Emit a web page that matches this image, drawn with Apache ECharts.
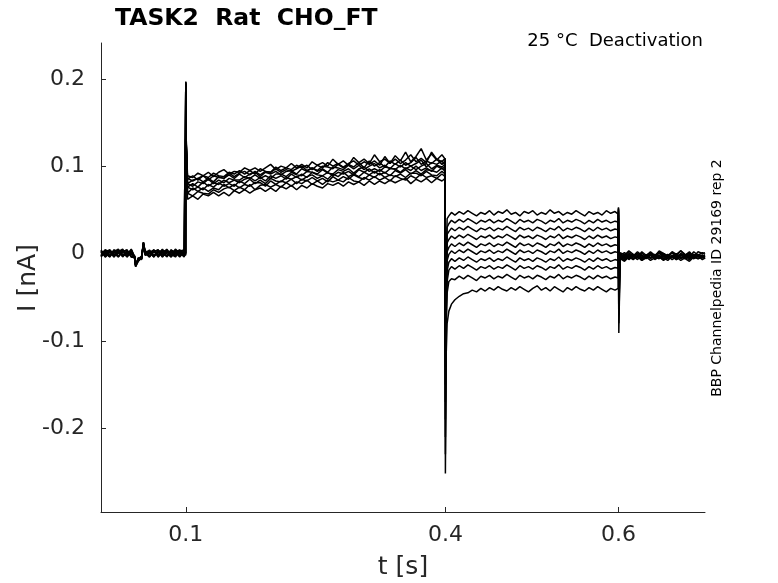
<!DOCTYPE html>
<html>
<head>
<meta charset="utf-8">
<script src="https://cdn.jsdelivr.net/npm/echarts@6/dist/echarts.min.js"></script>
<style>html,body{margin:0;padding:0;background:#fff;}#c{width:778px;height:583px;}</style>
</head>
<body>
<div id="c"></div>
<script>
// time samples [s]
const t = [
  0.002,0.007,0.012,0.017,0.022,0.027,0.032,0.037, 0.041,0.042,0.045,0.049,0.051,0.053, 0.058,0.063,0.068,0.073,0.078,0.083,0.088,0.093,0.098, 0.0997,
  0.1,0.1006,
  0.102,0.108,0.114,0.120,0.126,0.132,0.138,0.144,0.150,0.156,
  0.162,0.168,0.174,0.180,0.186,0.192,0.198,0.204,0.210,0.216,
  0.222,0.228,0.234,0.240,0.246,0.252,0.258,0.264,0.270,0.276,
  0.282,0.288,0.294,0.300,0.306,0.312,0.318,0.324,0.330,0.336,
  0.342,0.348,0.354,0.360,0.366,0.372,0.378,0.384,0.390,0.396,
  0.3997,
  0.4,0.4008,0.402,
  0.404,0.407,0.411,0.416,0.421,0.426,0.431,0.436,0.441,0.446,
  0.451,0.456,0.461,0.466,0.471,0.476,0.481,0.486,0.491,0.496,
  0.501,0.506,0.511,0.516,0.521,0.526,0.531,0.536,0.541,0.546,
  0.551,0.556,0.561,0.566,0.571,0.576,0.581,0.586,0.591,0.596,
  0.5997,
  0.6,0.6004,
  0.602,0.607,0.612,0.617,0.622,0.627,0.632,0.637,0.642,0.647,
  0.652,0.657,0.662,0.667,0.672,0.677,0.682,0.687,0.692,0.697,
  0.700
];

// current traces [nA]
const trace1 = [
  .003,-.003,.004,.000,-.004,.004,-.001,.005, -.004,-.012,-.007,-.003,.011,.002, .003,-.004,.004,-.001,.004,-.003,.005,.000,-.003, .001,
  .194,.125,
  .089,.087,.092,.089,.093,.088,.093,.096,.091,.094,
  .093,.098,.095,.098,.094,.098,.102,.096,.100,.098,
  .103,.098,.102,.098,.105,.101,.104,.100,.108,.102,
  .106,.101,.110,.104,.108,.103,.113,.105,.108,.103,
  .112,.106,.116,.105,.111,.120,.107,.114,.107,.113,
  .108,
  -.070,-.010,.040,
  .043,.047,.044,.048,.045,.049,.046,.043,.047,.045,
  .049,.044,.048,.046,.050,.045,.047,.043,.048,.046,
  .049,.044,.047,.045,.050,.046,.048,.044,.047,.045,
  .049,.046,.043,.048,.045,.047,.044,.049,.046,.048,
  .045,
  .030,-.091,
  -.001,-.004,.001,-.003,.002,-.002,-.005,.000,-.003,.002,
  -.001,-.004,.001,-.002,.003,-.001,-.004,.002,-.002,.001,
  -.001
];
const trace2 = [
  -.003,.004,-.004,.002,.005,-.002,.003,-.004, -.005,-.014,-.008,-.005,.013,.000, -.004,.004,-.002,.005,-.004,.002,-.003,.004,-.001, .000,
  .196,.120,
  .085,.089,.084,.089,.087,.092,.089,.088,.093,.091,
  .095,.091,.095,.091,.097,.094,.093,.099,.095,.098,
  .096,.101,.098,.101,.096,.101,.098,.104,.100,.103,
  .099,.103,.106,.101,.105,.102,.106,.101,.111,.103,
  .108,.103,.107,.113,.105,.109,.104,.116,.108,.105,
  .109,
  -.090,-.020,.030,
  .034,.038,.035,.039,.036,.040,.037,.034,.038,.036,
  .039,.035,.038,.036,.040,.037,.034,.039,.036,.038,
  .035,.039,.037,.034,.038,.036,.040,.035,.038,.036,
  .039,.037,.034,.038,.035,.039,.036,.038,.035,.037,
  .036,
  .035,-.080,
  -.005,-.002,-.007,-.003,.000,-.006,-.002,-.005,-.001,-.004,
  -.007,-.002,-.004,.000,-.005,-.003,-.006,-.001,-.004,-.002,
  -.004
];
const trace3 = [
  .002,-.004,.003,-.003,.002,.005,-.004,.002, -.006,-.013,-.006,-.007,.012,-.001, .004,-.002,.002,-.004,.005,-.001,-.004,.003,.004, -.002,
  .192,.118,
  .086,.083,.086,.089,.084,.089,.087,.086,.092,.088,
  .092,.094,.090,.094,.090,.094,.093,.097,.093,.096,
  .094,.097,.100,.095,.098,.095,.100,.099,.097,.102,
  .098,.102,.099,.104,.098,.106,.100,.104,.099,.106,
  .102,.107,.101,.104,.110,.102,.106,.103,.108,.102,
  .106,
  -.110,-.030,.022,
  .025,.029,.026,.030,.027,.031,.028,.025,.029,.027,
  .030,.026,.029,.027,.031,.028,.025,.030,.027,.029,
  .026,.030,.028,.025,.029,.027,.031,.026,.029,.027,
  .030,.028,.025,.029,.026,.030,.027,.029,.026,.028,
  .027,
  .040,-.070,
  .001,-.002,.003,-.001,-.004,.002,-.002,.001,-.003,.003,
  .000,-.003,.002,-.001,.003,-.002,.001,-.004,.002,.000,
  .001
];
const trace4 = [
  -.004,.002,-.003,.004,-.004,.002,.004,-.003, -.005,-.012,-.009,-.004,.010,-.002, .001,.004,-.004,.002,-.003,.004,.001,-.004,.002, .000,
  .195,.122,
  .080,.084,.086,.082,.086,.082,.088,.086,.090,.086,
  .091,.087,.091,.093,.088,.093,.091,.094,.090,.094,
  .095,.091,.097,.094,.098,.094,.097,.093,.099,.098,
  .096,.101,.097,.101,.096,.100,.103,.098,.101,.097,
  .103,.099,.104,.100,.103,.107,.099,.104,.102,.106,
  .101,
  -.130,-.040,.012,
  .016,.020,.017,.021,.018,.022,.019,.016,.020,.018,
  .021,.017,.020,.018,.022,.019,.016,.021,.018,.020,
  .017,.021,.019,.016,.020,.018,.022,.017,.020,.018,
  .021,.019,.016,.020,.017,.021,.018,.020,.017,.019,
  .018,
  .044,-.060,
  -.004,-.007,-.002,-.006,-.003,-.008,-.004,-.001,-.006,-.003,
  -.005,-.008,-.003,-.006,-.002,-.005,-.007,-.003,-.006,-.004,
  -.005
];
const trace5 = [
  .003,.000,-.004,.004,.002,-.003,.002,-.001, -.003,-.015,-.008,-.004,.012,.002, -.003,.002,.004,-.002,.003,-.004,.004,.000,-.003, .001,
  .193,.119,
  .080,.077,.082,.080,.085,.080,.084,.081,.086,.084,
  .084,.088,.086,.090,.086,.089,.086,.091,.091,.088,
  .093,.090,.089,.094,.093,.091,.096,.092,.091,.096,
  .094,.097,.092,.097,.099,.094,.097,.094,.099,.098,
  .096,.101,.097,.100,.096,.100,.103,.097,.101,.099,
  .102,
  -.150,-.050,.002,
  .007,.011,.008,.012,.009,.013,.010,.007,.011,.009,
  .012,.008,.011,.009,.013,.010,.007,.012,.009,.011,
  .008,.012,.010,.007,.011,.009,.013,.008,.011,.009,
  .012,.010,.007,.011,.008,.012,.009,.011,.008,.010,
  .009,
  .047,-.050,
  -.002,-.005,-.001,-.004,.000,-.003,-.006,-.002,-.004,.001,
  -.003,-.006,-.002,-.004,.000,-.003,-.005,-.001,-.003,-.002,
  -.003
];
const trace6 = [
  .000,.004,.002,-.004,.004,-.001,-.003,.004, -.005,-.014,-.005,-.006,.011,.000, .002,-.003,.001,.004,-.003,.002,.003,-.003,.004, -.001,
  .197,.124,
  .076,.080,.076,.082,.077,.081,.079,.084,.081,.084,
  .081,.085,.087,.083,.087,.083,.089,.086,.089,.085,
  .091,.087,.091,.087,.093,.090,.089,.093,.089,.093,
  .091,.094,.090,.096,.093,.097,.092,.096,.092,.097,
  .097,.093,.098,.095,.100,.095,.098,.094,.100,.097,
  .099,
  -.170,-.060,-.008,
  -.001,.003,.000,.004,.001,.005,.002,-.001,.003,.001,
  .004,.000,.003,.001,.005,.002,-.001,.004,.001,.003,
  .000,.004,.002,-.001,.003,.001,.005,.000,.003,.001,
  .004,.002,-.001,.003,.000,.004,.001,.003,.000,.002,
  .001,
  .049,-.040,
  -.006,-.009,-.004,-.007,-.003,-.008,-.005,-.002,-.007,-.004,
  -.008,-.005,-.003,-.007,-.004,-.006,-.009,-.004,-.006,-.003,
  -.006
];
const trace7 = [
  -.003,.002,.004,-.002,.000,.004,-.004,.002, -.006,-.013,-.007,-.005,.013,.003, -.004,.002,-.002,.004,.000,-.004,.002,.004,-.002, .001,
  .191,.117,
  .076,.073,.076,.073,.079,.076,.081,.077,.080,.077,
  .083,.080,.085,.080,.084,.080,.086,.083,.082,.087,
  .085,.088,.084,.088,.090,.086,.089,.085,.091,.088,
  .093,.088,.091,.088,.093,.090,.094,.090,.093,.089,
  .095,.092,.096,.091,.095,.091,.096,.095,.093,.098,
  .094,
  -.190,-.070,-.020,
  -.010,-.006,-.009,-.005,-.008,-.004,-.007,-.010,-.006,-.008,
  -.005,-.009,-.006,-.008,-.004,-.007,-.010,-.005,-.008,-.006,
  -.009,-.005,-.007,-.010,-.006,-.008,-.004,-.009,-.006,-.008,
  -.005,-.007,-.010,-.006,-.009,-.005,-.008,-.006,-.009,-.007,
  -.008,
  .050,-.030,
  -.002,.001,-.004,-.001,-.005,.000,-.003,.002,-.002,-.005,
  .000,-.003,.001,-.004,-.001,-.002,.002,-.004,-.001,-.003,
  -.002
];
const trace8 = [
  .004,-.004,.001,.002,-.003,.002,.004,-.004, -.004,-.015,-.009,-.005,.011,-.002, .000,.004,-.004,.002,.004,-.002,.000,.002,-.004, .000,
  .194,.121,
  .069,.075,.071,.075,.071,.075,.073,.079,.075,.079,
  .075,.079,.077,.081,.081,.077,.083,.079,.083,.081,
  .085,.080,.085,.083,.087,.083,.086,.082,.088,.084,
  .088,.085,.090,.087,.085,.090,.087,.092,.087,.090,
  .088,.091,.087,.092,.092,.089,.094,.090,.089,.094,
  .091,
  -.210,-.080,-.032,
  -.019,-.015,-.018,-.014,-.017,-.013,-.016,-.019,-.015,-.017,
  -.014,-.018,-.015,-.017,-.013,-.016,-.019,-.014,-.017,-.015,
  -.018,-.014,-.016,-.019,-.015,-.017,-.013,-.018,-.015,-.017,
  -.014,-.016,-.019,-.015,-.018,-.014,-.017,-.015,-.018,-.016,
  -.017,
  .051,-.025,
  -.004,-.001,-.006,-.003,-.007,-.002,-.005,-.001,-.004,-.006,
  -.002,-.005,-.003,-.007,-.002,-.004,-.001,-.006,-.003,-.005,
  -.004
];
const trace9 = [
  -.002,.004,-.002,.001,.004,-.004,.002,.000, -.003,-.014,-.007,-.003,.012,.001, .002,-.004,.002,-.001,-.003,.004,-.002,.001,.002, -.002,
  .196,.123,
  .069,.066,.071,.069,.068,.073,.070,.074,.076,.072,
  .076,.073,.079,.073,.078,.079,.076,.079,.076,.081,
  .077,.082,.080,.084,.079,.083,.079,.084,.082,.084,
  .082,.087,.083,.082,.087,.084,.088,.084,.087,.083,
  .089,.086,.084,.089,.086,.091,.087,.089,.086,.091,
  .088,
  -.230,-.090,-.045,
  -.032,-.029,-.030,-.026,-.029,-.025,-.028,-.031,-.026,-.028,
  -.025,-.029,-.026,-.028,-.024,-.027,-.030,-.025,-.028,-.026,
  -.029,-.025,-.027,-.030,-.026,-.028,-.024,-.029,-.026,-.028,
  -.025,-.027,-.030,-.026,-.029,-.025,-.028,-.026,-.029,-.027,
  -.028,
  .052,-.020,
  -.003,-.006,-.001,-.004,.000,-.005,-.002,-.006,-.003,.000,
  -.004,-.001,-.005,-.002,-.006,-.003,.000,-.004,-.002,-.005,
  -.003
];
const trace10 = [
  .002,-.002,.004,-.004,.002,.003,-.003,.004, -.004,-.013,-.006,-.006,.010,.000, -.002,.002,.004,-.004,.002,-.001,.004,-.002,.002, .000,
  .195,.120,
  .062,.066,.062,.068,.066,.070,.066,.070,.066,.072,
  .069,.073,.069,.073,.075,.071,.075,.071,.077,.074,
  .078,.073,.078,.075,.080,.077,.075,.080,.078,.081,
  .077,.082,.079,.082,.078,.083,.079,.083,.080,.084,
  .081,.084,.086,.080,.085,.082,.086,.081,.086,.083,
  .086,
  -.252,-.120,-.080,
  -.066,-.058,-.053,-.049,-.046,-.045,-.042,-.044,-.040,-.043,
  -.039,-.042,-.038,-.041,-.043,-.039,-.042,-.038,-.041,-.044,
  -.040,-.037,-.042,-.039,-.043,-.038,-.041,-.044,-.039,-.042,
  -.038,-.041,-.043,-.039,-.042,-.038,-.041,-.044,-.040,-.042,
  -.040,
  .053,-.015,
  -.005,-.008,-.003,-.006,-.002,-.007,-.004,-.008,-.005,-.002,
  -.006,-.003,-.007,-.004,-.008,-.005,-.002,-.006,-.003,-.007,
  -.005
];

const traces = [trace1, trace2, trace3, trace4, trace5, trace6, trace7, trace8, trace9, trace10];
const xTicks = [0.1, 0.4, 0.6];
const yTicks = [-0.2, -0.1, 0, 0.1, 0.2];

const titleText = 'TASK2  Rat  CHO_FT';
const conditionText = '25 \u00B0C  Deactivation';
const sideText = 'BBP Channelpedia ID 29169 rep 2';

const FONT = '"DejaVu Sans", Verdana, sans-serif';
const axisColor = '#262626';

const chart = echarts.init(document.getElementById('c'), null, {renderer: 'canvas'});

const series = traces.map((tr, k) => ({
  type: 'line',
  name: 'trace' + (k + 1),
  data: t.map((x, i) => [x, tr[i]]),
  showSymbol: false,
  symbol: 'none',
  sampling: null,
  animation: false,
  silent: true,
  lineStyle: {color: '#000000', width: 1.5},
  z: 2
}));

chart.setOption({
  animation: false,
  backgroundColor: '#ffffff',
  grid: {left: 101, right: 73, top: 43, bottom: 71, containLabel: false, outerBoundsMode: 'none'},
  xAxis: {
    type: 'value',
    min: 0.002,
    max: 0.7,
    axisLine: {show: true, onZero: false, lineStyle: {color: axisColor, width: 1}},
    axisTick: {show: true, inside: true, length: 5, customValues: xTicks, lineStyle: {color: axisColor}},
    axisLabel: {show: true, customValues: xTicks, margin: 12, color: axisColor, fontSize: 22, fontFamily: FONT,
      formatter: v => String(v)},
    splitLine: {show: false}
  },
  yAxis: {
    type: 'value',
    min: -0.296,
    max: 0.241,
    axisLine: {show: true, onZero: false, lineStyle: {color: axisColor, width: 1}},
    axisTick: {show: true, inside: true, length: 5, customValues: yTicks, lineStyle: {color: axisColor}},
    axisLabel: {show: true, customValues: yTicks, margin: 16, color: axisColor, fontSize: 22, fontFamily: FONT,
      formatter: v => String(v)},
    splitLine: {show: false}
  },
  graphic: [
    {type: 'text', left: 115, top: 7, style: {text: titleText, font: 'bold 23.5px ' + FONT, fill: '#000'}},
    {type: 'text', x: 703, y: 41, style: {text: conditionText, font: '18px ' + FONT, fill: '#000', align: 'right', verticalAlign: 'middle'}},
    {type: 'text', x: 717, y: 278, rotation: Math.PI / 2, style: {text: sideText, font: '14px ' + FONT, fill: '#000', align: 'center', verticalAlign: 'middle'}},
    {type: 'text', x: 28, y: 278, rotation: Math.PI / 2, style: {text: 'I [nA]', font: '25px ' + FONT, fill: axisColor, align: 'center', verticalAlign: 'middle'}},
    {type: 'text', x: 403, y: 567, style: {text: 't [s]', font: '25px ' + FONT, fill: axisColor, align: 'center', verticalAlign: 'middle'}}
  ],
  series: series
});
</script>
</body>
</html>
